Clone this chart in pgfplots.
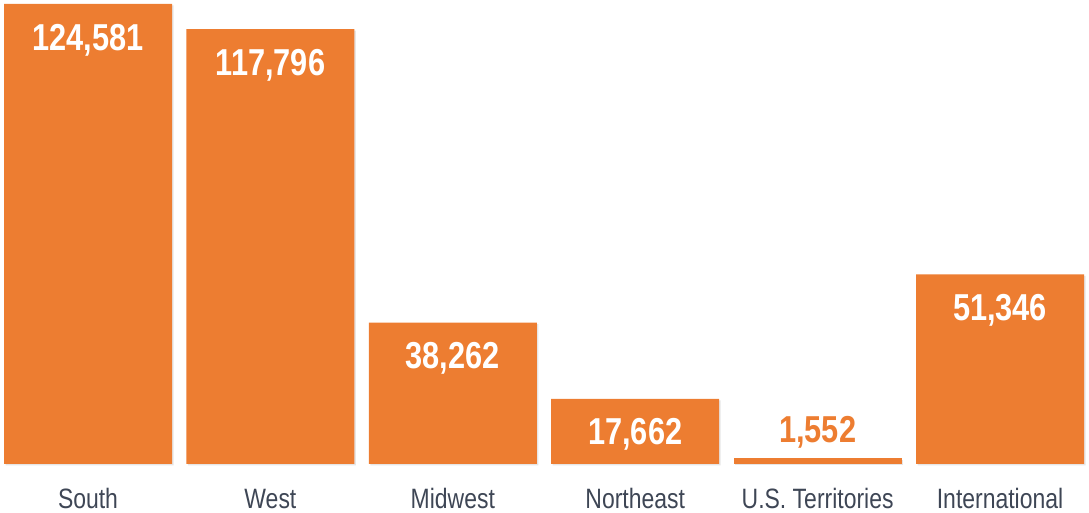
\documentclass[border=0pt]{standalone}
\usepackage{pgfplots}
\pgfplotsset{compat=1.18}
\usepackage{fontspec}
\setmainfont{Liberation Sans}[FakeStretch=0.82]
\usetikzlibrary{shadows}
\definecolor{barorange}{HTML}{ED7D31}
\definecolor{labelgray}{HTML}{3E4655}
\begin{document}
\begin{tikzpicture}
\begin{axis}[
  at={(0pt,49pt)}, anchor=south west,
  scale only axis,
  width=1089pt, height=464pt,
  xmin=-0.4825, xmax=5.488,
  ymin=0, ymax=125663,
  axis line style={draw=none},
  tick style={draw=none},
  clip=false,
  xtick={0,1,2,3,4,5},
  xticklabels={South,West,Midwest,Northeast,U.S. Territories,International},
  xticklabel style={anchor=base, yshift=-44.5pt, text=labelgray,
    font=\fontsize{28}{31}\selectfont},
  major tick length=0pt,
  ytick=\empty,
]
\addplot[ybar, bar shift=0pt, bar width=168pt, fill=barorange, draw=none,
  drop shadow={shadow xshift=1.5pt, shadow yshift=-1.5pt, opacity=0.2},
  point meta=explicit symbolic,
  nodes near coords,
  every node near coord/.append style={anchor=center, yshift=-36pt, text=white,
    font=\fontsize{37.5}{42}\selectfont\bfseries}]
  coordinates {(0,124581) [124,581] (1,117796) [117,796] (2,38262) [38,262] (3,17662) [17,662] (5,51346) [51,346]};
\addplot[ybar, bar shift=0pt, bar width=168pt, fill=barorange, draw=none,
  drop shadow={shadow xshift=1.5pt, shadow yshift=-1.5pt, opacity=0.2},
  point meta=explicit symbolic,
  nodes near coords,
  every node near coord/.append style={anchor=center, yshift=26pt, text=barorange,
    font=\fontsize{37.5}{42}\selectfont\bfseries}]
  coordinates {(4,1552) [1,552]};
\end{axis}
\pgfresetboundingbox
\path (0,0) rectangle (1089pt,513pt);
\end{tikzpicture}
\end{document}
